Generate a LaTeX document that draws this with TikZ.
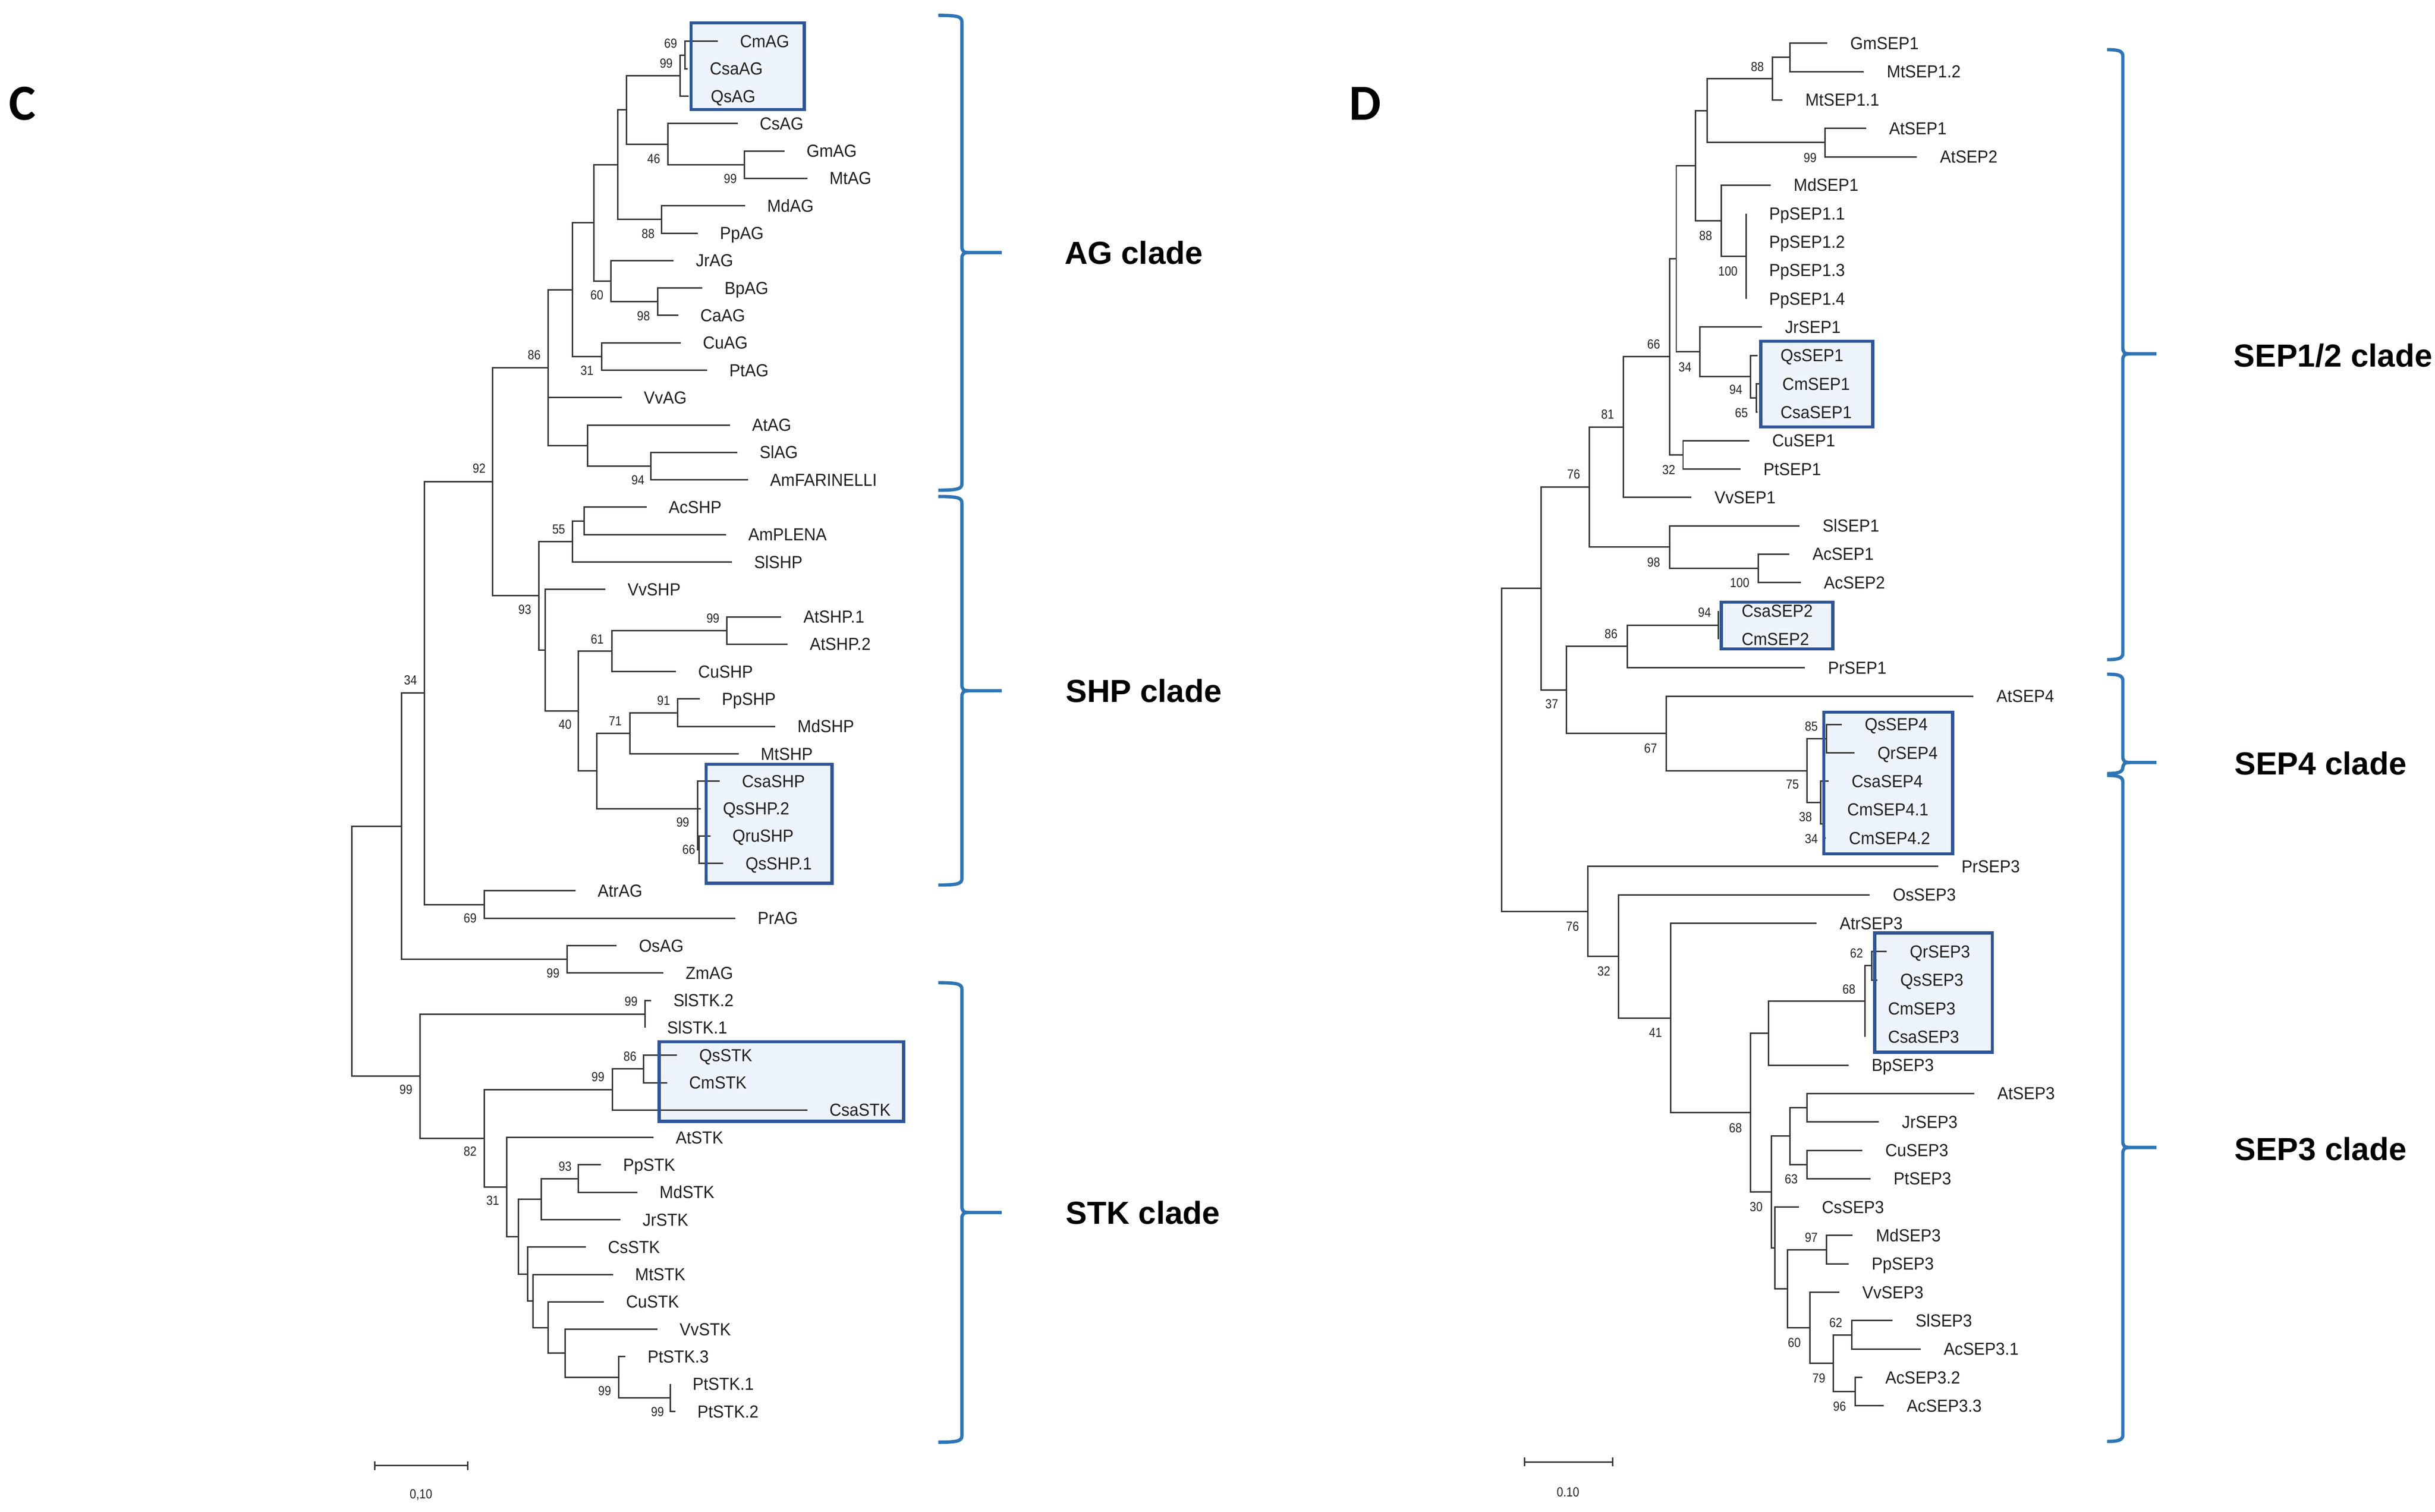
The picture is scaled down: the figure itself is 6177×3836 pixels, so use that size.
\documentclass[tikz,border=0pt]{standalone}
\usepackage{fontspec}
\setmainfont{Liberation Sans}
\newfontfamily\leaffam[FakeStretch=0.94]{Liberation Sans}
\newfontfamily\bsfam[FakeStretch=0.88]{Liberation Sans}
\newfontfamily\panelfam{Carlito}
\usetikzlibrary{calc}
\definecolor{treegray}{RGB}{55,55,55}
\definecolor{boxblue}{RGB}{47,85,151}
\definecolor{boxfill}{RGB}{237,243,250}
\definecolor{braceblue}{RGB}{46,117,182}
\tikzset{
  br/.style={line width=1.05pt, draw=treegray},
  labbase/.style={anchor=base west, inner sep=0pt, yshift=-0.155cm, text=black!88, font={\leaffam\fontsize{12.6}{14}\selectfont}},
  labL/.style={labbase, xshift=0.555cm},
  labR/.style={labbase, xshift=0.58cm},
  bsl/.style={inner sep=0pt, text=black!85, font={\bsfam\fontsize{9.5}{10}\selectfont}},
  hbox/.style={line width=2.3pt, draw=boxblue},
  brc/.style={line width=2.4pt, draw=braceblue},
  clade/.style={anchor=base west, inner sep=0pt, font={\bfseries\fontsize{23}{26}\selectfont}},
  panel/.style={anchor=base west, inner sep=0pt, font={\panelfam\bfseries\fontsize{36.5}{40}\selectfont}}
}
\newcommand\lfL[4]{\coordinate (#1) at (#2,{105+69.54*(#3-1)}); \node[labL] (#1-t) at (#1) {#4};}
\newcommand\lfR[4]{\coordinate (#1) at (#2,{109.7+72.04*(#3-1)}); \node[labR] (#1-t) at (#1) {#4};}
\newcommand\nd[5]{\path let \p1=(#3), \p2=(#4), \p3=(#2,0) in coordinate (#1) at (\x3,{0.5*\y1+0.5*\y2});
  \foreach \kid in {#5} {\draw[br] (#1) |- (\kid);}}
\newcommand\bs[4]{\node[bsl] (b-#1) at (#2,#3) {#4};}
\newcommand\cbrace[6]{%
  \draw[brc] (#4,#1) .. controls ({#5-12},#1) and (#5,{#1+3}) .. (#5,{#1+16}) -- (#5,{#2-16}) .. controls (#5,{#2-4}) and ({#5+4},#2) .. ({#5+18},#2) -- (#6,#2);
  \draw[brc] ({#5+18},#2) .. controls ({#5+4},#2) and (#5,{#2+4}) .. (#5,{#2+16}) -- (#5,{#3-16}) .. controls (#5,{#3-3}) and ({#5-12},#3) .. (#4,#3);}
\begin{document}
\begin{tikzpicture}[x=0.01cm, y=-0.01cm]
\useasboundingbox (0,0) rectangle (6177,3836);
\fill[white] (0,0) rectangle (6177,3836);
% ---------- box fills ----------
\fill[boxfill] (1753,58) rectangle (2040,278);
\fill[boxfill] (1791.5,1939.6) rectangle (2110.7,2241.5);
\fill[boxfill] (1672,2643.7) rectangle (2292.5,2846);
\fill[boxfill] (4466.7,866.2) rectangle (4750.5,1083.4);
\fill[boxfill] (4366.3,1528.2) rectangle (4649.1,1646.5);
\fill[boxfill] (4626.5,1807.6) rectangle (4953.3,2166.9);
\fill[boxfill] (4755.6,2367.5) rectangle (5053.8,2670.1);
% ---------- panel letters ----------
\node[panel] (pC) at (22,305) {C};
\node[panel] (pD) at (3422,305) {D};
% ================= LEFT TREE =================
\lfL{CmAG}{1821}{1}{CmAG}
\lfL{CsaAG}{1744.5}{2}{CsaAG}
\lfL{QsAG}{1747}{3}{QsAG}
\lfL{CsAG}{1871}{4}{CsAG}
\lfL{GmAG}{1990}{5}{GmAG}
\lfL{MtAG}{2048}{6}{MtAG}
\lfL{MdAG}{1890}{7}{MdAG}
\lfL{PpAG}{1770}{8}{PpAG}
\lfL{JrAG}{1709}{9}{JrAG}
\lfL{BpAG}{1782}{10}{BpAG}
\lfL{CaAG}{1720.5}{11}{CaAG}
\lfL{CuAG}{1727}{12}{CuAG}
\lfL{PtAG}{1794}{13}{PtAG}
\lfL{VvAG}{1577}{14}{VvAG}
\lfL{AtAG}{1851.6}{15}{AtAG}
\lfL{SlAG}{1870.7}{16}{SlAG}
\lfL{AmFAR}{1897.5}{17}{AmFARINELLI}
\lfL{AcSHP}{1640}{18}{AcSHP}
\lfL{AmPLENA}{1842}{19}{AmPLENA}
\lfL{SlSHP}{1857}{20}{SlSHP}
\lfL{VvSHP}{1536}{21}{VvSHP}
\lfL{AtSHPa}{1982}{22}{AtSHP.1}
\lfL{AtSHPb}{1998}{23}{AtSHP.2}
\lfL{CuSHP}{1715}{24}{CuSHP}
\lfL{PpSHP}{1775}{25}{PpSHP}
\lfL{MdSHP}{1967}{26}{MdSHP}
\lfL{MtSHP}{1873.6}{27}{MtSHP}
\lfL{CsaSHP}{1826}{28}{CsaSHP}
\lfL{QsSHPb}{1778}{29}{QsSHP.2}
\lfL{QruSHP}{1802}{30}{QruSHP}
\lfL{QsSHPa}{1835}{31}{QsSHP.1}
\lfL{AtrAG}{1460}{32}{AtrAG}
\lfL{PrAG}{1866}{33}{PrAG}
\lfL{OsAG}{1564.6}{34}{OsAG}
\lfL{ZmAG}{1683}{35}{ZmAG}
\lfL{SlSTKb}{1652}{36}{SlSTK.2}
\lfL{SlSTKa}{1636}{37}{SlSTK.1}
\lfL{QsSTK}{1717.7}{38}{QsSTK}
\lfL{CmSTK}{1692}{39}{CmSTK}
\lfL{CsaSTK}{2048}{40}{CsaSTK}
\lfL{AtSTK}{1658}{41}{AtSTK}
\lfL{PpSTK}{1524.5}{42}{PpSTK}
\lfL{MdSTK}{1617}{43}{MdSTK}
\lfL{JrSTK}{1574}{44}{JrSTK}
\lfL{CsSTK}{1486}{45}{CsSTK}
\lfL{MtSTK}{1555}{46}{MtSTK}
\lfL{CuSTK}{1532}{47}{CuSTK}
\lfL{VvSTK}{1668}{48}{VvSTK}
\lfL{PtSTKc}{1586.6}{49}{PtSTK.3}
\lfL{PtSTKa}{1701}{50}{PtSTK.1}
\lfL{PtSTKb}{1713}{51}{PtSTK.2}
\nd{nA}{1738}{CmAG}{CsaAG}{CmAG,CsaAG}
\nd{nB}{1725}{nA}{QsAG}{nA,QsAG}
\nd{nE}{1888}{GmAG}{MtAG}{GmAG,MtAG}
\nd{nD}{1694}{CsAG}{nE}{CsAG,nE}
\nd{nC}{1589.5}{nB}{nD}{nB,nD}
\nd{nG}{1678.5}{MdAG}{PpAG}{MdAG,PpAG}
\nd{nF}{1566.5}{nC}{nG}{nC,nG}
\nd{nJ}{1668}{BpAG}{CaAG}{BpAG,CaAG}
\nd{nI}{1550}{JrAG}{nJ}{JrAG,nJ}
\nd{nH}{1506}{nF}{nI}{nF,nI}
\nd{nL}{1526}{CuAG}{PtAG}{CuAG,PtAG}
\nd{nK}{1452.7}{nH}{nL}{nH,nL}
\nd{nP}{1651.7}{SlAG}{AmFAR}{SlAG,AmFAR}
\nd{nO}{1491}{AtAG}{nP}{AtAG,nP}
\nd{nM}{1390.5}{nK}{nO}{nK,VvAG,nO}
\nd{nW}{1482}{AcSHP}{AmPLENA}{AcSHP,AmPLENA}
\nd{nU}{1452.7}{nW}{SlSHP}{nW,SlSHP}
\nd{nAA}{1844}{AtSHPa}{AtSHPb}{AtSHPa,AtSHPb}
\nd{nY}{1552}{nAA}{CuSHP}{nAA,CuSHP}
\nd{nAD}{1719.6}{PpSHP}{MdSHP}{PpSHP,MdSHP}
\nd{nAB}{1598}{nAD}{MtSHP}{nAD,MtSHP}
\nd{nAG}{1773}{QruSHP}{QsSHPa}{QruSHP,QsSHPa}
\nd{nAC}{1770}{CsaSHP}{QruSHP}{CsaSHP,QsSHPb,nAG}
\nd{nZ}{1514}{nAB}{nAC}{nAB,nAC}
\nd{nX}{1467}{nY}{nZ}{nY,nZ}
\nd{nV}{1383}{VvSHP}{nX}{VvSHP,nX}
\nd{nR}{1366.6}{nU}{nV}{nU,nV}
\nd{nQ}{1250}{nM}{nR}{nM,nR}
\nd{nT}{1228}{AtrAG}{PrAG}{AtrAG,PrAG}
\nd{nS}{1076.7}{nQ}{nT}{nQ,nT}
\nd{nAI}{1438}{OsAG}{ZmAG}{OsAG,ZmAG}
\nd{nAH}{1019}{nS}{nAI}{nS,nAI}
\nd{nAK}{1636}{SlSTKb}{SlSTKa}{SlSTKb,SlSTKa}
\nd{nAO}{1632.5}{QsSTK}{CmSTK}{QsSTK,CmSTK}
\nd{nAM}{1553}{nAO}{CsaSTK}{nAO,CsaSTK}
\nd{nAS}{1467}{PpSTK}{MdSTK}{PpSTK,MdSTK}
\nd{nAQ}{1373}{nAS}{JrSTK}{nAS,JrSTK}
\nd{nAX}{1701}{PtSTKa}{PtSTKb}{PtSTKa,PtSTKb}
\nd{nAW}{1569}{PtSTKc}{nAX}{PtSTKc,nAX}
\nd{nAV}{1433.6}{VvSTK}{nAW}{VvSTK,nAW}
\nd{nAU}{1390.5}{CuSTK}{nAV}{CuSTK,nAV}
\nd{nAT}{1352}{MtSTK}{nAU}{MtSTK,nAU}
\nd{nAR}{1338}{CsSTK}{nAT}{CsSTK,nAT}
\nd{nAP}{1315}{nAQ}{nAR}{nAQ,nAR}
\nd{nAN}{1286}{AtSTK}{nAP}{AtSTK,nAP}
\nd{nAL}{1228}{nAM}{nAN}{nAM,nAN}
\nd{nAJ}{1065}{nAK}{nAL}{nAK,nAL}
\nd{nRootL}{892}{nAH}{nAJ}{nAH,nAJ}
% bootstrap left
\bs{nA}{1701.4}{109.7}{69}
\bs{nB}{1690}{161}{99}
\bs{nD}{1658.4}{403}{46}
\bs{nE}{1852.6}{453.4}{99}
\bs{nG}{1644}{593}{88}
\bs{nI}{1514}{749}{60}
\bs{nJ}{1632.5}{801.7}{98}
\bs{nM}{1355}{900.5}{86}
\bs{nL}{1489}{940.7}{31}
\bs{nQ}{1215.4}{1188.8}{92}
\bs{nP}{1618.2}{1218.7}{94}
\bs{nU}{1417.3}{1343.1}{55}
\bs{nR}{1331.2}{1546.6}{93}
\bs{nAA}{1808.6}{1568.9}{99}
\bs{nY}{1514.9}{1621.8}{61}
\bs{nS}{1041.3}{1725.8}{34}
\bs{nAD}{1683.3}{1778}{91}
\bs{nAB}{1560.8}{1830.4}{71}
\bs{nX}{1433.6}{1838.6}{40}
\bs{nAC}{1732}{2087.4}{99}
\bs{nAG}{1747.4}{2156.2}{66}
\bs{nT}{1192.5}{2330.4}{69}
\bs{nAI}{1403}{2470}{99}
\bs{nAK}{1601}{2542}{99}
\bs{nAO}{1598}{2681}{86}
\bs{nAM}{1516.8}{2733.4}{99}
\bs{nAJ}{1029.9}{2765.3}{99}
\bs{nAL}{1192.5}{2921.6}{82}
\bs{nAS}{1433.6}{2959.8}{93}
\bs{nAN}{1249.9}{3046.3}{31}
\bs{nAW}{1534}{3529.9}{99}
\bs{nAX}{1668}{3582.4}{99}
% scale bar left
\coordinate (sbL1) at (950.4,3719.7);
\coordinate (sbL2) at (1186.7,3719.7);
\draw[br] (sbL1) -- (sbL2);
\draw[br] ([yshift=0.11cm]sbL1) -- ([yshift=-0.11cm]sbL1);
\draw[br] ([yshift=0.11cm]sbL2) -- ([yshift=-0.11cm]sbL2);
\node[bsl] (sbL-t) at (1068,3793.7) {0,10};
% ================= RIGHT TREE =================
\lfR{GmSEPa}{4634.9}{1}{GmSEP1}
\lfR{MtSEPb}{4727.7}{2}{MtSEP1.2}
\lfR{MtSEPa}{4521}{3}{MtSEP1.1}
\lfR{AtSEPa}{4733.5}{4}{AtSEP1}
\lfR{AtSEPb}{4862.6}{5}{AtSEP2}
\lfR{MdSEPa}{4491.4}{6}{MdSEP1}
\lfR{PpSEPa}{4429.2}{7}{PpSEP1.1}
\lfR{PpSEPb}{4429.2}{8}{PpSEP1.2}
\lfR{PpSEPc}{4429.2}{9}{PpSEP1.3}
\lfR{PpSEPd}{4429.2}{10}{PpSEP1.4}
\lfR{JrSEPa}{4469.4}{11}{JrSEP1}
\lfR{QsSEPa}{4458}{12}{QsSEP1}
\lfR{CmSEPa}{4462.7}{13}{CmSEP1}
\lfR{CsaSEPa}{4458}{14}{CsaSEP1}
\lfR{CuSEPa}{4436.9}{15}{CuSEP1}
\lfR{PtSEPa}{4414.9}{16}{PtSEP1}
\lfR{VvSEPa}{4290.5}{17}{VvSEP1}
\lfR{SlSEPa}{4565}{18}{SlSEP1}
\lfR{AcSEPa}{4539.2}{19}{AcSEP1}
\lfR{AcSEPb}{4568}{20}{AcSEP2}
\lfR{CsaSEPb}{4359.4}{21}{CsaSEP2}
\lfR{CmSEPb}{4359.4}{22}{CmSEP2}
\lfR{PrSEPa}{4578.5}{23}{PrSEP1}
\lfR{AtSEPd}{5006}{24}{AtSEP4}
\lfR{QsSEPd}{4671.7}{25}{QsSEP4}
\lfR{QrSEPd}{4704}{26}{QrSEP4}
\lfR{CsaSEPd}{4638.3}{27}{CsaSEP4}
\lfR{CmSEPda}{4627.3}{28}{CmSEP4.1}
\lfR{CmSEPdb}{4631.7}{29}{CmSEP4.2}
\lfR{PrSEPc}{4917.1}{30}{PrSEP3}
\lfR{OsSEPc}{4743}{31}{OsSEP3}
\lfR{AtrSEPc}{4608.1}{32}{AtrSEP3}
\lfR{QrSEPc}{4786}{33}{QrSEP3}
\lfR{QsSEPc}{4762}{34}{QsSEP3}
\lfR{CmSEPc}{4730.6}{35}{CmSEP3}
\lfR{CsaSEPc}{4730.6}{36}{CsaSEP3}
\lfR{BpSEPc}{4689.4}{37}{BpSEP3}
\lfR{AtSEPc}{5008}{38}{AtSEP3}
\lfR{JrSEPc}{4766}{39}{JrSEP3}
\lfR{CuSEPc}{4723.9}{40}{CuSEP3}
\lfR{PtSEPc}{4745}{41}{PtSEP3}
\lfR{CsSEPc}{4563}{42}{CsSEP3}
\lfR{MdSEPc}{4700}{43}{MdSEP3}
\lfR{PpSEPe}{4689.4}{44}{PpSEP3}
\lfR{VvSEPc}{4665.5}{45}{VvSEP3}
\lfR{SlSEPc}{4800.4}{46}{SlSEP3}
\lfR{AcSEPca}{4872.2}{47}{AcSEP3.1}
\lfR{AcSEPcb}{4723.9}{48}{AcSEP3.2}
\lfR{AcSEPcc}{4778.4}{49}{AcSEP3.3}
\nd{rA}{4540.2}{GmSEPa}{MtSEPb}{GmSEPa,MtSEPb}
\nd{rB}{4496.2}{rA}{MtSEPa}{rA,MtSEPa}
\nd{rD}{4630}{AtSEPa}{AtSEPb}{AtSEPa,AtSEPb}
\nd{rC}{4330.7}{rB}{rD}{rB,rD}
\nd{rG}{4429.2}{PpSEPa}{PpSEPd}{PpSEPa,PpSEPb,PpSEPc,PpSEPd}
\nd{rF}{4367}{MdSEPa}{rG}{MdSEPa,rG}
\nd{rE}{4301}{rC}{rF}{rC,rF}
\nd{rK}{4456}{CmSEPa}{CsaSEPa}{CmSEPa,CsaSEPa}
\nd{rJ}{4440.7}{QsSEPa}{rK}{QsSEPa,rK}
\nd{rI}{4312.5}{JrSEPa}{rJ}{JrSEPa,rJ}
\nd{rH}{4252.2}{rE}{rI}{rE,rI}
\nd{rM}{4269.5}{CuSEPa}{PtSEPa}{CuSEPa,PtSEPa}
\nd{rL}{4236}{rH}{rM}{rH,rM}
\nd{rN}{4118.3}{rL}{VvSEPa}{rL,VvSEPa}
\nd{rQ}{4459.8}{AcSEPa}{AcSEPb}{AcSEPa,AcSEPb}
\nd{rP}{4235}{SlSEPa}{rQ}{SlSEPa,rQ}
\nd{rO}{4031.3}{rN}{rP}{rN,rP}
\nd{rV}{4359.4}{CsaSEPb}{CmSEPb}{CsaSEPb,CmSEPb}
\nd{rU}{4127.9}{rV}{PrSEPa}{rV,PrSEPa}
\nd{rX}{4633}{QsSEPd}{QrSEPd}{QsSEPd,QrSEPd}
\nd{rZ}{4627.3}{CmSEPda}{CmSEPdb}{CmSEPda,CmSEPdb}
\nd{rY}{4618.3}{CsaSEPd}{rZ}{CsaSEPd,rZ}
\nd{rW}{4583.3}{rX}{rY}{rX,rY}
\nd{rT}{4226.4}{AtSEPd}{rW}{AtSEPd,rW}
\nd{rS}{3973.9}{rU}{rT}{rU,rT}
\nd{rR}{3909.8}{rO}{rS}{rO,rS}
\nd{sB}{4747.8}{QrSEPc}{QsSEPc}{QrSEPc,QsSEPc}
\nd{sA}{4730.6}{sB}{CsaSEPc}{sB,CmSEPc,CsaSEPc}
\nd{sC}{4486.6}{sA}{BpSEPc}{sA,BpSEPc}
\nd{sE}{4583.3}{AtSEPc}{JrSEPc}{AtSEPc,JrSEPc}
\nd{sF}{4583.3}{CuSEPc}{PtSEPc}{CuSEPc,PtSEPc}
\nd{sD}{4541.2}{sE}{sF}{sE,sF}
\nd{sG}{4633}{MdSEPc}{PpSEPe}{MdSEPc,PpSEPe}
\nd{sH}{4697}{SlSEPc}{AcSEPca}{SlSEPc,AcSEPca}
\nd{sI}{4706.7}{AcSEPcb}{AcSEPcc}{AcSEPcb,AcSEPcc}
\nd{sJ}{4651.2}{sH}{sI}{sH,sI}
\nd{sK}{4591.9}{VvSEPc}{sJ}{VvSEPc,sJ}
\nd{sL}{4534.5}{sG}{sK}{sG,sK}
\nd{sM}{4502.9}{CsSEPc}{sL}{CsSEPc,sL}
\nd{sN}{4493.3}{sD}{sM}{sD,sM}
\nd{sO}{4440.7}{sC}{sN}{sC,sN}
\nd{sP}{4237.9}{AtrSEPc}{sO}{AtrSEPc,sO}
\nd{sQ}{4105.9}{OsSEPc}{sP}{OsSEPc,sP}
\nd{sR}{4027.4}{PrSEPc}{sQ}{PrSEPc,sQ}
\nd{nRootR}{3809.3}{rR}{sR}{rR,sR}
% bootstrap right
\bs{rB}{4457.9}{169}{88}
\bs{rD}{4591.9}{400.5}{99}
\bs{rF}{4326.9}{598.2}{88}
\bs{rG}{4383.3}{688.8}{100}
\bs{rL}{4194.8}{873.7}{66}
\bs{rI}{4274.3}{931.1}{34}
\bs{rJ}{4403.4}{988.5}{94}
\bs{rK}{4417.7}{1047.8}{65}
\bs{rN}{4078.1}{1051}{81}
\bs{rM}{4233.1}{1192.6}{32}
\bs{rO}{3992}{1204}{76}
\bs{rP}{4194.8}{1427.3}{98}
\bs{rQ}{4413}{1479.6}{100}
\bs{rV}{4324}{1554.8}{94}
\bs{rU}{4086.7}{1609}{86}
\bs{rS}{3936.5}{1786.4}{37}
\bs{rT}{4187.2}{1899.2}{67}
\bs{rX}{4595}{1843.3}{85}
\bs{rW}{4547}{1990}{75}
\bs{rY}{4580}{2073.3}{38}
\bs{rZ}{4595}{2128.3}{34}
\bs{sR}{3989.2}{2350.8}{76}
\bs{sB}{4709.5}{2419}{62}
\bs{sQ}{4068.6}{2464.3}{32}
\bs{sA}{4690.4}{2510.2}{68}
\bs{sP}{4199.6}{2619.9}{41}
\bs{sO}{4402.4}{2862.2}{68}
\bs{sF}{4544}{2992.5}{63}
\bs{sN}{4455}{3062.4}{30}
\bs{sG}{4594.7}{3140.6}{97}
\bs{sH}{4656.9}{3356.7}{62}
\bs{sK}{4551.7}{3407.5}{60}
\bs{sJ}{4613.9}{3497}{79}
\bs{sI}{4666.5}{3568.7}{96}
% scale bar right
\coordinate (sbR1) at (3867.7,3710);
\coordinate (sbR2) at (4091.5,3710);
\draw[br] (sbR1) -- (sbR2);
\draw[br] ([yshift=0.11cm]sbR1) -- ([yshift=-0.11cm]sbR1);
\draw[br] ([yshift=0.11cm]sbR2) -- ([yshift=-0.11cm]sbR2);
\node[bsl] (sbR-t) at (3977.7,3786.6) {0.10};
% ---------- box borders ----------
\draw[hbox] (1753,58) rectangle (2040,278);
\draw[hbox] (1791.5,1939.6) rectangle (2110.7,2241.5);
\draw[hbox] (1672,2643.7) rectangle (2292.5,2846);
\draw[hbox] (4466.7,866.2) rectangle (4750.5,1083.4);
\draw[hbox] (4366.3,1528.2) rectangle (4649.1,1646.5);
\draw[hbox] (4626.5,1807.6) rectangle (4953.3,2166.9);
\draw[hbox] (4755.6,2367.5) rectangle (5053.8,2670.1);
% ---------- braces ----------
\cbrace{39}{641}{1244}{2380}{2440}{2541}
\cbrace{1260}{1753}{2246}{2380}{2440}{2541}
\cbrace{2494}{3077}{3660}{2380}{2440}{2541}
\cbrace{126}{898}{1674}{5345}{5385}{5470}
\cbrace{1711}{1935}{1963}{5345}{5385}{5470}
\cbrace{1968}{2912}{3658}{5345}{5385}{5470}
% ---------- clade labels ----------
\node[clade] (cAG) at (2700,670) {AG clade};
\node[clade] (cSHP) at (2703,1782) {SHP clade};
\node[clade] (cSTK) at (2703,3106) {STK clade};
\node[clade] (cSEP12) at (5666,931) {SEP1/2 clade};
\node[clade] (cSEP4) at (5668,1966) {SEP4 clade};
\node[clade] (cSEP3) at (5668,2944) {SEP3 clade};
\end{tikzpicture}
\end{document}
